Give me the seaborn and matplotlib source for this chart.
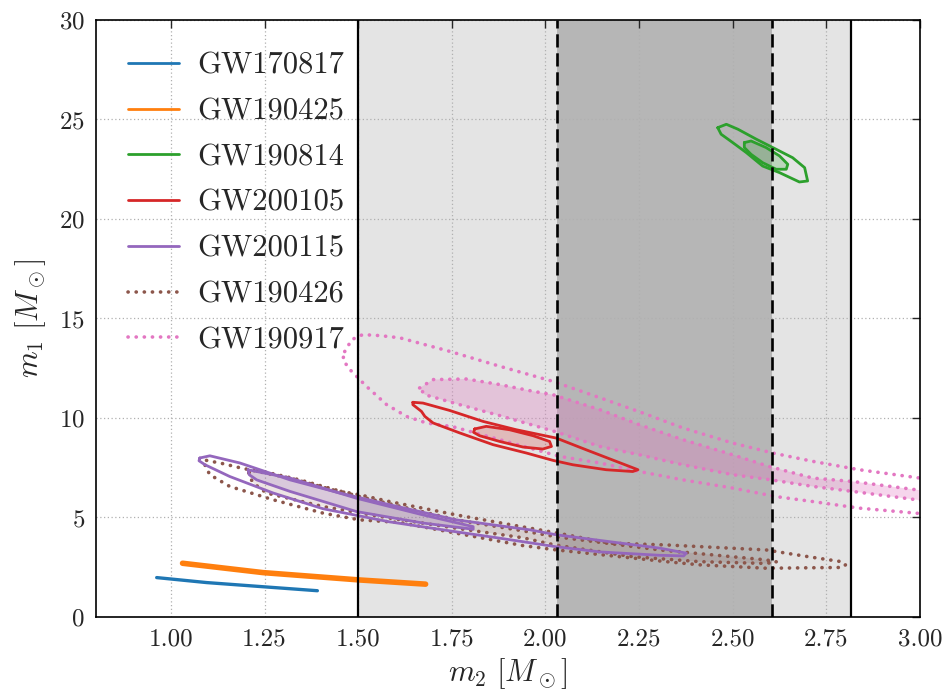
import numpy as np
import matplotlib
matplotlib.use("Agg")
import matplotlib.pyplot as plt
import seaborn as sns
from matplotlib.lines import Line2D
from matplotlib.ticker import FormatStrFormatter

sns.set_style("white")
plt.rcParams["font.family"] = ["cmr10", "DejaVu Serif"]
plt.rcParams["mathtext.fontset"] = "cm"
plt.rcParams["axes.formatter.use_mathtext"] = True

# ---- events and colours -------------------------------------------------
events = ["GW170817", "GW190425", "GW190814", "GW200105",
          "GW200115", "GW190426", "GW190917"]
palette = sns.color_palette("tab10")
event_color = {
    "GW170817": palette[0], "GW190425": palette[1], "GW190814": palette[2],
    "GW200105": palette[3], "GW200115": palette[4], "GW190426": palette[5],
    "GW190917": palette[6],
}
dotted_events = ["GW190426", "GW190917"]

# ---- mass-gap bands (m2) -------------------------------------------------
gap_wide = [1.50, 2.815]
gap_narrow = [2.03, 2.605]

# ---- credible-region outlines, (m2, m1) in solar masses -----------------
gw170817_m2 = [0.962, 1.095, 1.246, 1.391]
gw170817_m1 = [1.98, 1.73, 1.52, 1.32]

gw190425_m2 = [1.031, 1.246, 1.504, 1.680]
gw190425_m1 = [2.70, 2.23, 1.86, 1.65]

gw190814_outer_m2 = [2.460, 2.483, 2.514, 2.563, 2.607, 2.660, 2.692, 2.700,
                     2.678, 2.625, 2.580, 2.536, 2.500, 2.469]
gw190814_outer_m1 = [24.59, 24.76, 24.51, 24.01, 23.59, 23.08, 22.58, 21.91,
                     21.86, 22.33, 22.66, 23.34, 23.84, 24.26]
gw190814_inner_m2 = [2.531, 2.549, 2.589, 2.625, 2.647, 2.643, 2.616, 2.580,
                     2.549, 2.531]
gw190814_inner_m1 = [23.84, 23.92, 23.59, 23.17, 22.75, 22.50, 22.50, 22.83,
                     23.25, 23.59]

gw200105_outer_m2 = [1.646, 1.673, 1.744, 1.833, 1.922, 2.029, 2.109, 2.189,
                     2.247, 2.233, 2.162, 2.073, 2.020, 1.949, 1.860, 1.771,
                     1.700, 1.678, 1.669, 1.646]
gw200105_outer_m1 = [10.79, 10.75, 10.38, 9.83, 9.41, 8.99, 8.40, 7.82,
                     7.40, 7.31, 7.40, 7.65, 7.87, 8.24, 8.66, 9.25,
                     9.75, 10.08, 10.33, 10.67]
gw200105_inner_m2 = [1.811, 1.842, 1.904, 1.967, 2.011, 2.016, 1.993, 1.940,
                     1.878, 1.824, 1.808]
gw200105_inner_m1 = [9.45, 9.58, 9.41, 9.11, 8.82, 8.57, 8.44, 8.54,
                     8.82, 9.11, 9.28]

gw200115_outer_m2 = [1.077, 1.104, 1.184, 1.318, 1.451, 1.584, 1.762, 1.958,
                     2.029, 2.198, 2.305, 2.376, 2.369, 2.305, 2.145, 2.025,
                     1.878, 1.762, 1.584, 1.406, 1.273, 1.157, 1.091, 1.075]
gw200115_outer_m1 = [7.99, 8.10, 7.74, 6.89, 6.23, 5.64, 4.88, 4.38,
                     4.13, 3.72, 3.46, 3.21, 3.07, 3.10, 3.27, 3.54,
                     3.96, 4.28, 4.78, 5.44, 6.23, 7.06, 7.65, 7.85]
gw200115_inner_m2 = [1.206, 1.229, 1.318, 1.495, 1.673, 1.807, 1.807, 1.673,
                     1.495, 1.318, 1.229, 1.209]
gw200115_inner_m1 = [7.40, 7.31, 6.98, 5.97, 5.13, 4.54, 4.41, 4.72,
                     5.30, 6.31, 6.89, 7.15]

gw190426_outer_m2 = [1.095, 1.140, 1.184, 1.318, 1.432, 1.504, 1.584, 1.762,
                     1.939, 2.029, 2.171, 2.323, 2.589, 2.705, 2.794, 2.801,
                     2.794, 2.589, 2.412, 2.323, 2.029, 1.939, 1.762, 1.611,
                     1.504, 1.406, 1.273, 1.157, 1.104, 1.091]
gw190426_outer_m1 = [7.87, 7.70, 7.50, 6.98, 6.39, 6.14, 5.80, 5.13,
                     4.53, 4.23, 3.71, 3.62, 3.37, 3.02, 2.77, 2.62,
                     2.49, 2.45, 2.62, 2.78, 3.37, 3.59, 4.21, 4.75,
                     4.88, 5.22, 5.89, 6.56, 7.15, 7.60]
gw190426_inner_m2 = [1.208, 1.238, 1.344, 1.504, 1.762, 1.939, 2.029, 2.305,
                     2.589, 2.617, 2.589, 2.412, 2.233, 2.025, 1.940, 1.762,
                     1.584, 1.406, 1.255, 1.220, 1.208]
gw190426_inner_m1 = [7.30, 7.35, 6.89, 6.05, 4.88, 4.33, 4.03, 3.37,
                     2.87, 2.77, 2.69, 2.78, 3.03, 3.62, 3.98, 4.46,
                     4.97, 5.55, 6.23, 6.73, 7.10]

gw190917_outer_m2 = [1.464, 1.483, 1.512, 1.558, 1.611, 1.744, 1.878, 2.020,
                     2.145, 2.260, 2.367, 2.500, 2.607, 2.714, 2.838, 3.012,
                     3.012, 2.838, 2.714, 2.616, 2.500, 2.367, 2.251, 2.145,
                     2.038, 1.878, 1.753, 1.682, 1.629, 1.576, 1.522, 1.478,
                     1.459]
gw190917_outer_m1 = [13.34, 13.94, 14.19, 14.14, 14.03, 13.35, 12.60, 11.84,
                     11.02, 10.25, 9.50, 8.74, 8.24, 7.82, 7.40, 6.95,
                     5.18, 5.47, 5.80, 6.05, 6.48, 6.89, 7.31, 7.74,
                     8.07, 8.91, 9.56, 9.75, 10.08, 10.67, 11.59, 12.43,
                     12.93]
gw190917_inner_m2 = [1.664, 1.700, 1.789, 1.878, 1.967, 2.020, 2.145, 2.251,
                     2.367, 2.500, 2.598, 2.714, 2.820, 3.012, 3.012, 2.820,
                     2.714, 2.603, 2.500, 2.367, 2.251, 2.145, 2.027, 1.878,
                     1.771, 1.678]
gw190917_inner_m1 = [11.51, 11.93, 11.96, 11.68, 11.34, 11.17, 10.42, 9.66,
                     8.91, 8.15, 7.56, 6.98, 6.81, 6.34, 5.84, 6.31,
                     6.56, 6.89, 7.15, 7.65, 8.15, 8.57, 9.31, 10.12,
                     10.67, 11.17]

closed_regions = [
    # (event, m2, m1, filled)
    ("GW190917", gw190917_outer_m2, gw190917_outer_m1, False),
    ("GW190917", gw190917_inner_m2, gw190917_inner_m1, True),
    ("GW190426", gw190426_outer_m2, gw190426_outer_m1, False),
    ("GW190426", gw190426_inner_m2, gw190426_inner_m1, True),
    ("GW200115", gw200115_outer_m2, gw200115_outer_m1, False),
    ("GW200115", gw200115_inner_m2, gw200115_inner_m1, True),
    ("GW200105", gw200105_outer_m2, gw200105_outer_m1, False),
    ("GW200105", gw200105_inner_m2, gw200105_inner_m1, True),
    ("GW190814", gw190814_outer_m2, gw190814_outer_m1, False),
    ("GW190814", gw190814_inner_m2, gw190814_inner_m1, True),
]
narrow_regions = [
    ("GW170817", gw170817_m2, gw170817_m1, 2.4),
    ("GW190425", gw190425_m2, gw190425_m1, 4.0),
]
fill_alpha = {"GW190917": 0.30, "GW190426": 0.15, "GW200115": 0.22,
              "GW200105": 0.22, "GW190814": 0.22}

x_ticks = [1.00, 1.25, 1.50, 1.75, 2.00, 2.25, 2.50, 2.75, 3.00]
y_ticks = [0, 5, 10, 15, 20, 25, 30]

# round dots: near-zero dash with round caps
DOTS = (0, (0.05, 2.2))

fig = plt.figure(figsize=(9.46, 6.92), dpi=100)
ax = fig.add_axes([0.1015, 0.1084, 0.8710, 0.8627])

# mass-gap shading and boundaries
ax.axvspan(*gap_wide, color="#e4e4e4", lw=0, zorder=0.2)
ax.axvspan(*gap_narrow, color="#b6b6b6", lw=0, zorder=0.3)
for x in gap_wide:
    ax.axvline(x, color="black", lw=1.6, zorder=3)
for x in gap_narrow:
    ax.axvline(x, color="black", lw=1.9, ls=(0, (5, 2.2)), zorder=3)

# credible regions
for ev, m2, m1, filled in closed_regions:
    xs = list(m2) + [m2[0]]
    ys = list(m1) + [m1[0]]
    dotted = ev in dotted_events
    if filled:
        ax.fill(m2, m1, color=event_color[ev], alpha=fill_alpha[ev], lw=0,
                zorder=1.8)
    sns.lineplot(x=xs, y=ys, sort=False, estimator=None, ax=ax,
                 color=event_color[ev], lw=2.6 if dotted else 2.0,
                 zorder=2.5)
    ln = ax.lines[-1]
    if dotted:
        ln.set_linestyle(DOTS)
        ln.set_dash_capstyle("round")

for ev, m2, m1, lw in narrow_regions:
    sns.lineplot(x=m2, y=m1, sort=False, estimator=None, ax=ax,
                 color=event_color[ev], lw=lw, zorder=2.5)
    ax.lines[-1].set_solid_capstyle("round")

ax.set_xlim(0.8, 3.0)
ax.set_ylim(0, 30)
ax.set_xticks(x_ticks)
ax.set_yticks(y_ticks)
ax.xaxis.set_major_formatter(FormatStrFormatter("%.2f"))
ax.grid(True, color="#b0b0b0", ls=(0, (1, 2)), lw=0.9)
ax.tick_params(direction="in", length=6, width=1, labelsize=18,
               top=True, right=True, pad=8)
for sp in ax.spines.values():
    sp.set_linewidth(1.2)
    sp.set_color("black")

ax.set_xlabel(r"$m_2\ [M_\odot]$", fontsize=22, labelpad=4)
ax.set_ylabel(r"$m_1\ [M_\odot]$", fontsize=22, labelpad=8)

handles = []
for ev in events:
    if ev in dotted_events:
        h = Line2D([], [], color=event_color[ev], lw=2.6, ls=DOTS,
                   dash_capstyle="round")
    else:
        h = Line2D([], [], color=event_color[ev], lw=2.0)
    handles.append(h)
leg = ax.legend(handles, events, loc="upper left", frameon=False,
                fontsize=22, handlelength=1.65, handletextpad=0.6,
                labelspacing=0.6, borderaxespad=0.65)

fig.savefig("out.png", dpi=100)
